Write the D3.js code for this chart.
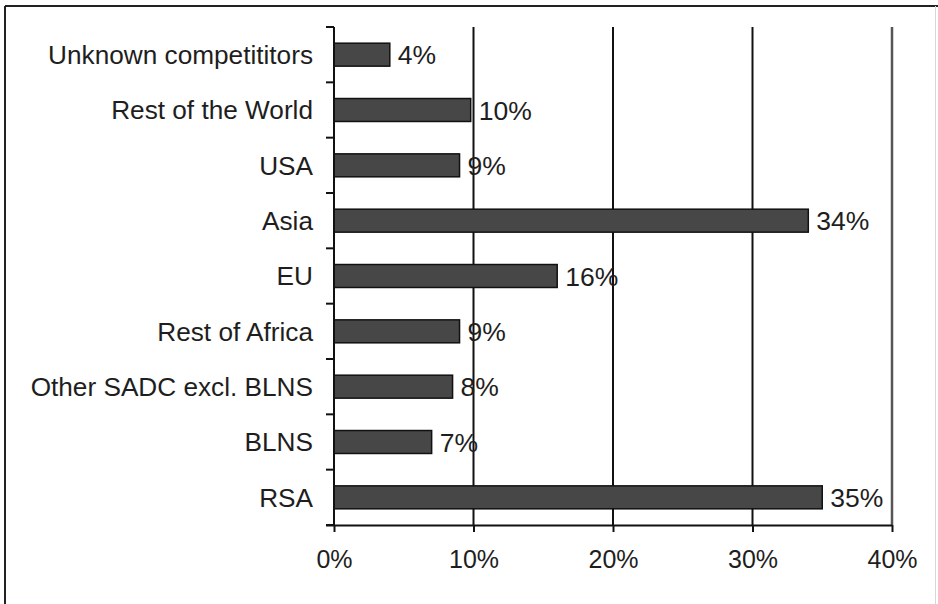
<!DOCTYPE html>
<html>
<head>
<meta charset="utf-8">
<script src="https://cdn.jsdelivr.net/npm/d3@7"></script>
<style>
  html, body { margin: 0; padding: 0; background: #fff; }
  svg { display: block; }
  text { font-family: "Liberation Sans", Arial, sans-serif; fill: #1e1e1e; }
</style>
</head>
<body>
<svg id="chart" width="938" height="604"></svg>
<script>
const categories = ["Unknown competititors", "Rest of the World", "USA", "Asia", "EU",
                    "Rest of Africa", "Other SADC excl. BLNS", "BLNS", "RSA"];
const values = [4, 9.8, 9, 34, 16, 9, 8.5, 7, 35];
const valueLabels = ["4%", "10%", "9%", "34%", "16%", "9%", "8%", "7%", "35%"];
const xTicks = [0, 10, 20, 30, 40];

const svg = d3.select("#chart");
const plot = { left: 334, right: 892, top: 27, bottom: 525 };

// outer frame
svg.append("line").attr("x1", 5).attr("x2", 938).attr("y1", 6).attr("y2", 6)
  .attr("stroke", "#222").attr("stroke-width", 2);
svg.append("line").attr("x1", 5).attr("x2", 5).attr("y1", 6).attr("y2", 604)
  .attr("stroke", "#222").attr("stroke-width", 2);
svg.append("line").attr("x1", 935.5).attr("x2", 935.5).attr("y1", 6).attr("y2", 604)
  .attr("stroke", "#d8d8d8").attr("stroke-width", 1);

const x = d3.scaleLinear().domain([0, 40]).range([plot.left, plot.right]);
const y = d3.scaleBand().domain(categories).range([plot.top, plot.bottom])
  .paddingInner(0.585).paddingOuter(0.2925);

// gridlines
svg.append("g").selectAll("line").data(xTicks.slice(1)).join("line")
  .attr("x1", d => x(d)).attr("x2", d => x(d))
  .attr("y1", plot.top).attr("y2", plot.bottom)
  .attr("stroke", d => d === 40 ? "#555" : "#111")
  .attr("stroke-width", d => d === 40 ? 2.5 : 2);

// bars
svg.append("g").selectAll("rect").data(categories).join("rect")
  .attr("x", x(0))
  .attr("y", d => y(d))
  .attr("width", (d, i) => x(values[i]) - x(0))
  .attr("height", y.bandwidth())
  .attr("fill", "#474747")
  .attr("stroke", "#111")
  .attr("stroke-width", 1.5);

// value labels
svg.append("g").selectAll("text").data(categories).join("text")
  .attr("x", (d, i) => x(values[i]) + 8)
  .attr("y", d => y(d) + y.bandwidth() / 2)
  .attr("dy", "0.36em")
  .attr("font-size", 26.5)
  .text((d, i) => valueLabels[i]);

// x axis
const xAxis = d3.axisBottom(x).tickValues(xTicks).tickFormat(d => d + "%")
  .tickSize(7).tickPadding(18).tickSizeOuter(0);
const gx = svg.append("g").attr("transform", `translate(0,${plot.bottom})`).call(xAxis);
gx.select(".domain").attr("d", `M${plot.left - 8},0.5H${plot.right}`).attr("stroke", "#111").attr("stroke-width", 2);
gx.selectAll(".tick line").attr("stroke", "#111").attr("stroke-width", 2);
gx.selectAll(".tick text").attr("font-size", 25).attr("font-family", "Liberation Sans, Arial, sans-serif").attr("fill", "#1e1e1e");

// y axis with ticks at band boundaries
const gy = svg.append("g");
gy.append("line").attr("x1", plot.left).attr("x2", plot.left)
  .attr("y1", plot.top).attr("y2", plot.bottom).attr("stroke", "#111").attr("stroke-width", 2);
const step = y.step();
const boundaries = d3.range(categories.length + 1).map(i => plot.top + i * step);
gy.selectAll("line.tk").data(boundaries).join("line").attr("class", "tk")
  .attr("x1", plot.left - 8).attr("x2", plot.left)
  .attr("y1", d => d).attr("y2", d => d)
  .attr("stroke", "#111").attr("stroke-width", 2);
gy.selectAll("text").data(categories).join("text")
  .attr("x", plot.left - 21)
  .attr("y", d => y(d) + y.bandwidth() / 2)
  .attr("dy", "0.36em")
  .attr("text-anchor", "end")
  .attr("font-size", 26.2)
  .text(d => d);
</script>
</body>
</html>
